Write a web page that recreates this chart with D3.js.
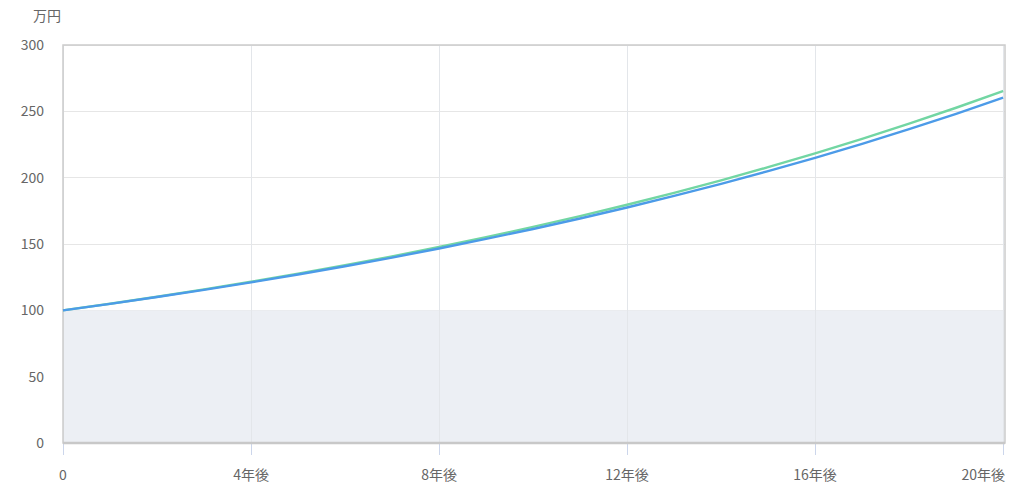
<!DOCTYPE html>
<html><head><meta charset="utf-8">
<script src="https://cdn.jsdelivr.net/npm/d3@7"></script>
<style>body{margin:0;background:#fff}text{font-family:"Noto Sans CJK JP","Noto Sans",sans-serif}</style>
</head><body><svg id="c" width="1024" height="502"></svg>
<script>
const years = [0,1,2,3,4,5,6,7,8,9,10,11,12,13,14,15,16,17,18,19,20];
const seriesGreen = [100,105,110.25,115.76,121.55,127.63,134.01,140.71,147.75,155.13,162.89,171.03,179.59,188.56,197.99,207.89,218.29,229.20,240.66,252.70,265.33];
const seriesBlue = [100,104.9,110.04,115.43,121.09,127.02,133.25,139.77,146.62,153.81,161.34,169.25,177.54,186.24,195.37,204.94,214.98,225.52,236.57,248.16,260.32];
const xTicks = [0,4,8,12,16,20];
const xTickLabels = ["0","4年後","8年後","12年後","16年後","20年後"];
const yTicks = [0,50,100,150,200,250,300];
const bandRange = [0,100];

const svg = d3.select("#c");
const L=63,R=1005,T=45,B=443;
const x = d3.scaleLinear().domain([0,20.04]).range([L,R]);
const y = d3.scaleLinear().domain([0,300]).range([B,T]);

svg.append("g").selectAll("line").data(yTicks).join("line")
  .attr("x1",L).attr("x2",R).attr("y1",d=>y(d)).attr("y2",d=>y(d))
  .attr("stroke","#e6e6e6").attr("stroke-width",1).attr("shape-rendering","crispEdges");
svg.append("rect").attr("x",L).attr("y",y(bandRange[1])).attr("width",R-L).attr("height",y(bandRange[0])-y(bandRange[1]))
  .attr("fill","#eceff4");
svg.append("g").selectAll("line").data(xTicks).join("line")
  .attr("x1",d=>x(d)).attr("x2",d=>x(d)).attr("y1",T).attr("y2",B)
  .attr("stroke","#e3e6ea").attr("stroke-width",1).attr("shape-rendering","crispEdges");
svg.append("g").selectAll("line").data(xTicks).join("line")
  .attr("x1",d=>Math.round(x(d))+0.5).attr("x2",d=>Math.round(x(d))+0.5).attr("y1",B).attr("y2",B+12)
  .attr("stroke","#ccd6eb").attr("stroke-width",1);
svg.append("rect").attr("x",L).attr("y",T).attr("width",R-L).attr("height",B-T)
  .attr("fill","none").attr("stroke","#cccccc").attr("stroke-width",1.5);
svg.append("line").attr("x1",L).attr("x2",R).attr("y1",B).attr("y2",B).attr("stroke","#c8c8c8").attr("stroke-width",2.5);

const line = d3.line().x((d,i)=>x(years[i])).y(d=>y(d)).curve(d3.curveMonotoneX);
svg.append("path").datum(seriesGreen).attr("d",line).attr("fill","none").attr("stroke","#72d6a3").attr("stroke-width",2.4);
svg.append("path").datum(seriesBlue).attr("d",line).attr("fill","none").attr("stroke","#4c9be8").attr("stroke-width",2.4);

svg.append("g").selectAll("text").data(yTicks).join("text")
  .attr("x",44).attr("y",d=>y(d)).attr("dy","0.35em").attr("text-anchor","end")
  .attr("font-size",14).attr("fill","#666").text(d=>d);
svg.append("text").attr("x",33).attr("y",21).attr("font-size",14).attr("fill","#666").text("万円");
svg.append("g").selectAll("text").data(xTicks).join("text")
  .attr("x",(d,i)=> i===xTicks.length-1 ? R : x(d)).attr("y",480)
  .attr("text-anchor",(d,i)=> i===xTicks.length-1 ? "end" : "middle")
  .attr("font-size",14).attr("fill","#666").text((d,i)=>xTickLabels[i]);
</script></body></html>
